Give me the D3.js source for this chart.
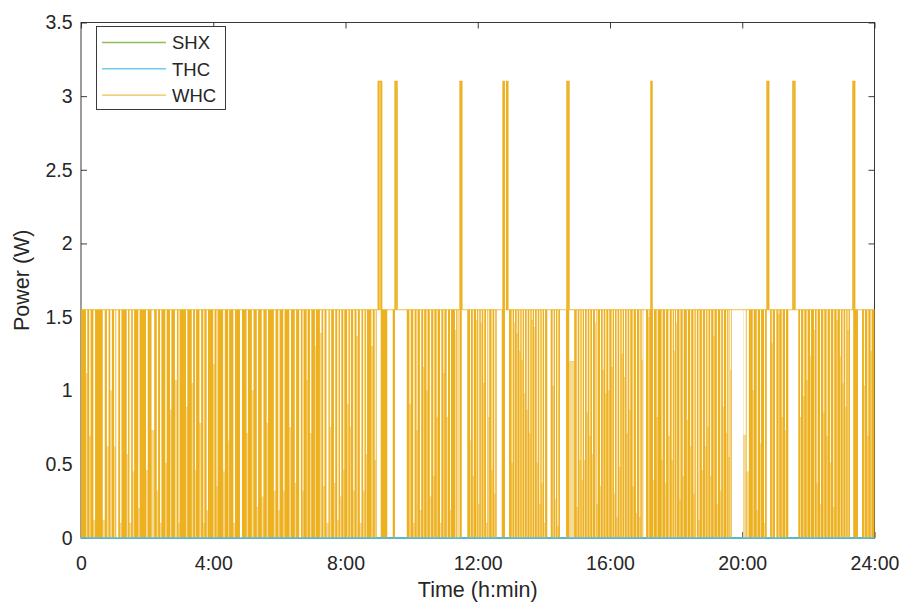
<!DOCTYPE html>
<html><head><meta charset="utf-8">
<script src="https://cdn.jsdelivr.net/npm/d3@7"></script>
<style>
body{margin:0;background:#fff}
text{font-family:"Liberation Sans",Arial,Helvetica,sans-serif;fill:#262626}
</style>
</head><body>
<svg id="chart" width="902" height="605"></svg>
<script>
// ---------------- DATA (time in minutes after midnight, power in W) ----------------
const seriesNames = ["SHX", "THC", "WHC"];
const xTickValues = [0, 240, 480, 720, 960, 1200, 1440];
const xTickLabels = ["0", "4:00", "8:00", "12:00", "16:00", "20:00", "24:00"];
const yTickValues = [0, 0.5, 1, 1.5, 2, 2.5, 3, 3.5];
const yTickLabels = ["0", "0.5", "1", "1.5", "2", "2.5", "3", "3.5"];

const shxTime = [0, 1440];
const shxPower = [0, 0];
const thcTime = [0, 1440];
const thcPower = [0, 0];

const whcOnPower = 1.55;     // level of the cycling heater
const whcPeakPower = 3.1;    // level of the short peaks

// periods with no switching (constant state)
const whcQuietStart = [536.6, 555.8, 569.8, 691, 754.4, 769.4, 846.2, 869.2, 1020.4, 1181, 1244.5, 1283.6, 1395.4, 1410];
const whcQuietEnd   = [543.9, 565.7, 591.1, 701, 763.5, 776.8, 852.4, 880.2, 1025.3, 1202, 1250.5, 1301.7, 1401.4, 1417.3];

// short pauses inside switching periods: start (min), duration (min), highest level reached (W)
const whcPauseStart = [
  9, 15, 22.5, 39.5, 47, 53, 60, 64, 71, 83, 88, 94, 104, 118, 128, 137.5, 143.5, 153, 161.5, 170.5,
  177, 190.5, 201, 207, 215, 222, 228, 240, 246, 258, 267, 276.5, 288.5, 300.5, 310, 319, 328, 337,
  350, 358, 367, 378, 388, 396, 402, 409.5, 415.5, 424.5, 433.5, 439.5, 445.5, 451.5, 459, 465, 470,
  476, 483, 488, 494, 500, 506, 512, 517, 527, 533,
  595.9, 603, 609, 615, 621, 627, 633, 639.4, 645.4, 651.5, 657.6, 663.6, 669.6, 678.7, 681.7,
  706, 711, 717, 721, 725.5, 730, 735, 739, 745, 750,
  781.5, 785.8, 790.6, 795.4, 799.7, 804, 808.8, 813.6, 817.9, 822.1, 827, 831.7, 836, 840.3,
  856, 860.2, 864.4, 886,
  899.6, 904.4, 908.6, 912.8, 917.7, 922.5, 927.3, 932.7, 935.7, 941.9, 946.7, 951.5, 956.9, 963,
  967.2, 972, 976.8, 981.2, 985.4, 990.2, 995, 1001.1, 1007.1, 1013.2, 1017.5,
  1029.5, 1038, 1044.7, 1053.7,
  1060, 1066, 1072, 1076, 1080, 1086, 1092, 1099.5, 1105.5, 1111.5, 1115.7, 1120.6, 1126.7, 1132.7,
  1136.9, 1141.8, 1147.8, 1153.9, 1160, 1164.8, 1170.8, 1175, 1178, 1202, 1208,
  1219, 1226.3, 1232.3, 1239.5, 1253.5, 1259.5, 1265.6, 1271.6, 1277.6,
  1304.8, 1310.8, 1316.8, 1323, 1330.2, 1335, 1341.1, 1347.1, 1353.1, 1359.1, 1365.2, 1371.2,
  1377.2, 1382.1, 1386.9, 1391.1, 1420.8, 1427, 1433
];
const whcPauseLength = [
  2.4, 2.4, 3, 3.6, 3, 3, 2.4, 3.6, 2.4, 2.4, 3, 2.4, 2.4, 3, 4.8, 2.4, 2.4, 2.4, 2.4, 3.6,
  1.8, 2.4, 2.4, 1.8, 3, 1.8, 2.4, 2.4, 1.8, 3, 1.8, 3, 3.6, 2.4, 3, 2.4, 3, 2.4,
  3, 2.4, 2.4, 3, 2.4, 3, 1.8, 1.8, 2.4, 1.8, 3, 2.4, 3.6, 2.4, 2.4, 2.4, 2.4,
  1.8, 2.4, 1.8, 2.4, 2.4, 3, 2.4, 1.8, 2.4, 1.8,
  2.4, 2.4, 1.8, 2.4, 1.8, 1.8, 2.4, 1.8, 1.8, 2.4, 1.8, 2.4, 1.8, 1.8, 6,
  1.8, 1.8, 1.8, 1.8, 1.8, 1.8, 2.4, 1.8, 1.8, 1.8,
  1.8, 1.8, 1.8, 1.8, 1.8, 1.8, 1.8, 1.8, 1.8, 1.8, 1.8, 1.8, 1.8, 1.8,
  1.8, 1.8, 1.8, 9,
  1.8, 1.8, 1.8, 1.8, 1.8, 1.8, 1.8, 1.8, 1.8, 1.8, 1.8, 1.8, 1.8, 1.8,
  1.8, 1.8, 1.8, 1.8, 1.8, 1.8, 1.8, 1.8, 1.8, 1.8, 1.8,
  1.8, 1.8, 1.8, 1.8,
  1.8, 2.4, 1.8, 1.8, 1.8, 1.8, 1.8, 1.8, 1.8, 1.8, 1.8, 1.8, 1.8, 1.8,
  1.8, 1.8, 1.8, 1.8, 1.8, 1.8, 1.8, 1.8, 1.8, 4.5, 4,
  1.8, 1.8, 1.8, 1.8, 1.8, 2.4, 1.8, 1.8, 1.8,
  1.8, 1.8, 1.8, 1.8, 1.8, 1.8, 1.8, 1.8, 1.8, 1.8, 1.8, 1.8,
  1.8, 1.8, 1.8, 1.8, 1.8, 1.8, 1.8
];
const whcPauseLevel = [
  1.12, 0.69, 0.12, 0.12, 0.62, 1.0, 0.62, 0, 0.10, 0.57, 0.10, 0.45, 0.20, 0.46, 0.73, 0.32, 0.10, 0.51, 0.87, 1.07,
  0.10, 0.89, 1.05, 0.46, 0.78, 0.10, 0.19, 1.18, 0.35, 0.45, 0.66, 0.10, 0, 0.71, 1.0, 0.21, 0.28, 0.78,
  0.32, 0.19, 0.32, 0.75, 0.37, 0, 0.32, 1.07, 0.71, 1.30, 1.39, 0.35, 0.10, 0.75, 0.37, 0.12, 0.28,
  0.46, 0.91, 0.75, 0.32, 1.37, 0.10, 0.32, 0.57, 1.30, 0.53,
  0.91, 0.10, 0.73, 0.19, 1.16, 1.0, 0.28, 0.42, 0.82, 0.10, 1.12, 0.82, 0.19, 1.41, 1.55,
  0.66, 0.42, 1.48, 0.23, 1.46, 1.05, 0.10, 0.82, 0.46, 0.30,
  0.51, 1.46, 1.39, 1.27, 1.21, 0.98, 0.87, 0.71, 1.48, 1.43, 0.51, 0.23, 0.37, 0.10,
  1.03, 0.26, 0.08, 1.2,
  0.21, 0.53, 0.39, 0.53, 0.85, 0.69, 0.57, 1.46, 0.23, 0.35, 1.14, 0.98, 1.0, 1.16,
  0.30, 0.14, 0.48, 1.25, 1.09, 0.71, 0.87, 0.35, 0.17, 0.14, 1.21,
  1.50, 0.39, 0.82, 0.53,
  0.37, 0.69, 0.53, 1.27, 1.46, 0.26, 0.42, 0.80, 0.62, 0.30, 0, 0.12, 0.46, 0.62,
  0.75, 0.42, 1.37, 0.23, 0.32, 0.89, 0.71, 0.55, 1.14, 0.70, 0.45,
  1.0, 0.19, 0.64, 0.10, 1.32, 0, 1.52, 0.82, 0.73,
  0.82, 0.96, 1.07, 1.23, 1.41, 0.37, 0.23, 0.85, 0.69, 0.51, 0.21, 1.48,
  1.23, 1.05, 0.89, 1.41, 1.03, 0.69, 1.27
];

// short peaks to the double level
const whcPeakStart = [539.5, 570, 688, 766, 772.5, 882, 1034.4, 1245, 1292, 1401];
const whcPeakEnd   = [545.5, 573.5, 691, 768, 774.5, 885.5, 1036.2, 1248, 1295.5, 1404];

// ---------------- CHART ----------------
const colors = {SHX: "#77AC30", THC: "#4DBEEE", WHC: "#EDB120"};
const whcLight = "#F6DA97";
const axisColor = "#262626";

const svg = d3.select("#chart");
const mLeft = 81, mRight = 874.5, mTop = 22.5, mBottom = 538;
const x = d3.scaleLinear().domain([0, 1440]).range([mLeft, mRight]);
const y = d3.scaleLinear().domain([0, 3.5]).range([mBottom, mTop]);

// axes (drawn first, data covers them like the original)
const gAxes = svg.append("g");
gAxes.append("rect").attr("x", mLeft).attr("y", mTop).attr("width", mRight - mLeft).attr("height", mBottom - mTop)
  .attr("fill", "none").attr("stroke", axisColor).attr("stroke-width", 0.9);

function styleAxis(g, fs) {
  g.select(".domain").remove();
  g.selectAll(".tick line").attr("stroke", axisColor).attr("stroke-width", 0.9);
  g.selectAll(".tick text").attr("fill", axisColor).style("font-size", fs + "px")
    .style("font-family", '"Liberation Sans", Arial, sans-serif');
}
const xAxis = d3.axisBottom(x).tickValues(xTickValues).tickFormat((d, i) => xTickLabels[i])
  .tickSizeInner(-6).tickSizeOuter(0).tickPadding(18);
gAxes.append("g").attr("transform", `translate(0,${mBottom})`).call(xAxis).call(g => styleAxis(g, 19.5));
const xAxisTop = d3.axisTop(x).tickValues(xTickValues).tickFormat("").tickSizeInner(-6).tickSizeOuter(0);
gAxes.append("g").attr("transform", `translate(0,${mTop})`).call(xAxisTop).call(g => styleAxis(g, 19.5));
const yAxis = d3.axisLeft(y).tickValues(yTickValues).tickFormat((d, i) => yTickLabels[i])
  .tickSizeInner(-6).tickSizeOuter(0).tickPadding(8.5);
gAxes.append("g").attr("transform", `translate(${mLeft},0)`).call(yAxis).call(g => styleAxis(g, 19.5));
const yAxisRight = d3.axisRight(y).tickValues(yTickValues).tickFormat("").tickSizeInner(-6).tickSizeOuter(0);
gAxes.append("g").attr("transform", `translate(${mRight},0)`).call(yAxisRight).call(g => styleAxis(g, 19.5));

// SHX line
const line = d3.line().x(d => x(d[0])).y(d => y(d[1]));
svg.append("path").datum(shxTime.map((t, i) => [t, shxPower[i]]))
  .attr("d", line).attr("fill", "none").attr("stroke", colors.SHX).attr("stroke-width", 1);

// WHC switching periods = complement of quiet periods
const blocks = [];
let cur = 0;
whcQuietStart.forEach((s, i) => { if (s > cur) blocks.push([cur, s]); cur = whcQuietEnd[i]; });
if (cur < 1440) blocks.push([cur, 1440]);

const gW = svg.append("g");
gW.selectAll("rect.blk").data(blocks).join("rect").attr("class", "blk")
  .attr("x", d => x(d[0])).attr("width", d => x(d[1]) - x(d[0]))
  .attr("y", y(whcOnPower)).attr("height", y(0) - y(whcOnPower))
  .attr("fill", colors.WHC);

const pauses = whcPauseStart.map((s, i) => ({s, e: s + whcPauseLength[i], lv: whcPauseLevel[i]}));
gW.selectAll("rect.pw").data(pauses).join("rect").attr("class", "pw")
  .attr("x", d => x(d.s)).attr("width", d => x(d.e) - x(d.s))
  .attr("y", y(whcOnPower)).attr("height", d => Math.max(0, y(d.lv) - y(whcOnPower)))
  .attr("fill", "#ffffff");
gW.selectAll("rect.pl").data(pauses).join("rect").attr("class", "pl")
  .attr("x", d => x(d.s)).attr("width", d => x(d.e) - x(d.s))
  .attr("y", d => y(d.lv)).attr("height", d => y(0) - y(d.lv))
  .attr("fill", whcLight);

// THC on the bottom edge
svg.append("path").datum(thcTime.map((t, i) => [t, thcPower[i]]))
  .attr("d", line).attr("fill", "none").attr("stroke", colors.THC).attr("stroke-width", 1.3);

// upper envelope line of WHC
svg.append("path").datum([[0, whcOnPower], [1440, whcOnPower]])
  .attr("d", line).attr("fill", "none").attr("stroke", colors.WHC).attr("stroke-width", 1).attr("opacity", 0.8);

// peaks
const peaks = whcPeakStart.map((s, i) => [s, whcPeakEnd[i]]);
gW.selectAll("path.pk").data(peaks).join("path").attr("class", "pk")
  .attr("d", d => line([[d[0], whcOnPower], [d[0], whcPeakPower], [d[1], whcPeakPower], [d[1], whcOnPower]]))
  .attr("fill", "#F2C75E").attr("stroke", colors.WHC).attr("stroke-width", 1.5);

// axis labels
svg.append("text").attr("x", (mLeft + mRight) / 2).attr("y", 597).attr("text-anchor", "middle")
  .style("font-size", "21.5px").text("Time (h:min)");
svg.append("text").attr("transform", `translate(29,${(mTop + mBottom) / 2}) rotate(-90)`)
  .attr("text-anchor", "middle").style("font-size", "21.5px").text("Power (W)");

// legend
const lg = svg.append("g");
lg.append("rect").attr("x", 96.5).attr("y", 26.5).attr("width", 129).attr("height", 83)
  .attr("fill", "#fff").attr("stroke", axisColor).attr("stroke-width", 0.9);
seriesNames.forEach((n, i) => {
  const yy = 42.5 + i * 26.3;
  lg.append("line").attr("x1", 102).attr("x2", 166).attr("y1", yy).attr("y2", yy)
    .attr("stroke", colors[n]).attr("stroke-width", 1.4).attr("opacity", 0.8);
  lg.append("text").attr("x", 172).attr("y", yy + 6.8).style("font-size", "18.5px").text(n);
});
</script>
</body></html>
